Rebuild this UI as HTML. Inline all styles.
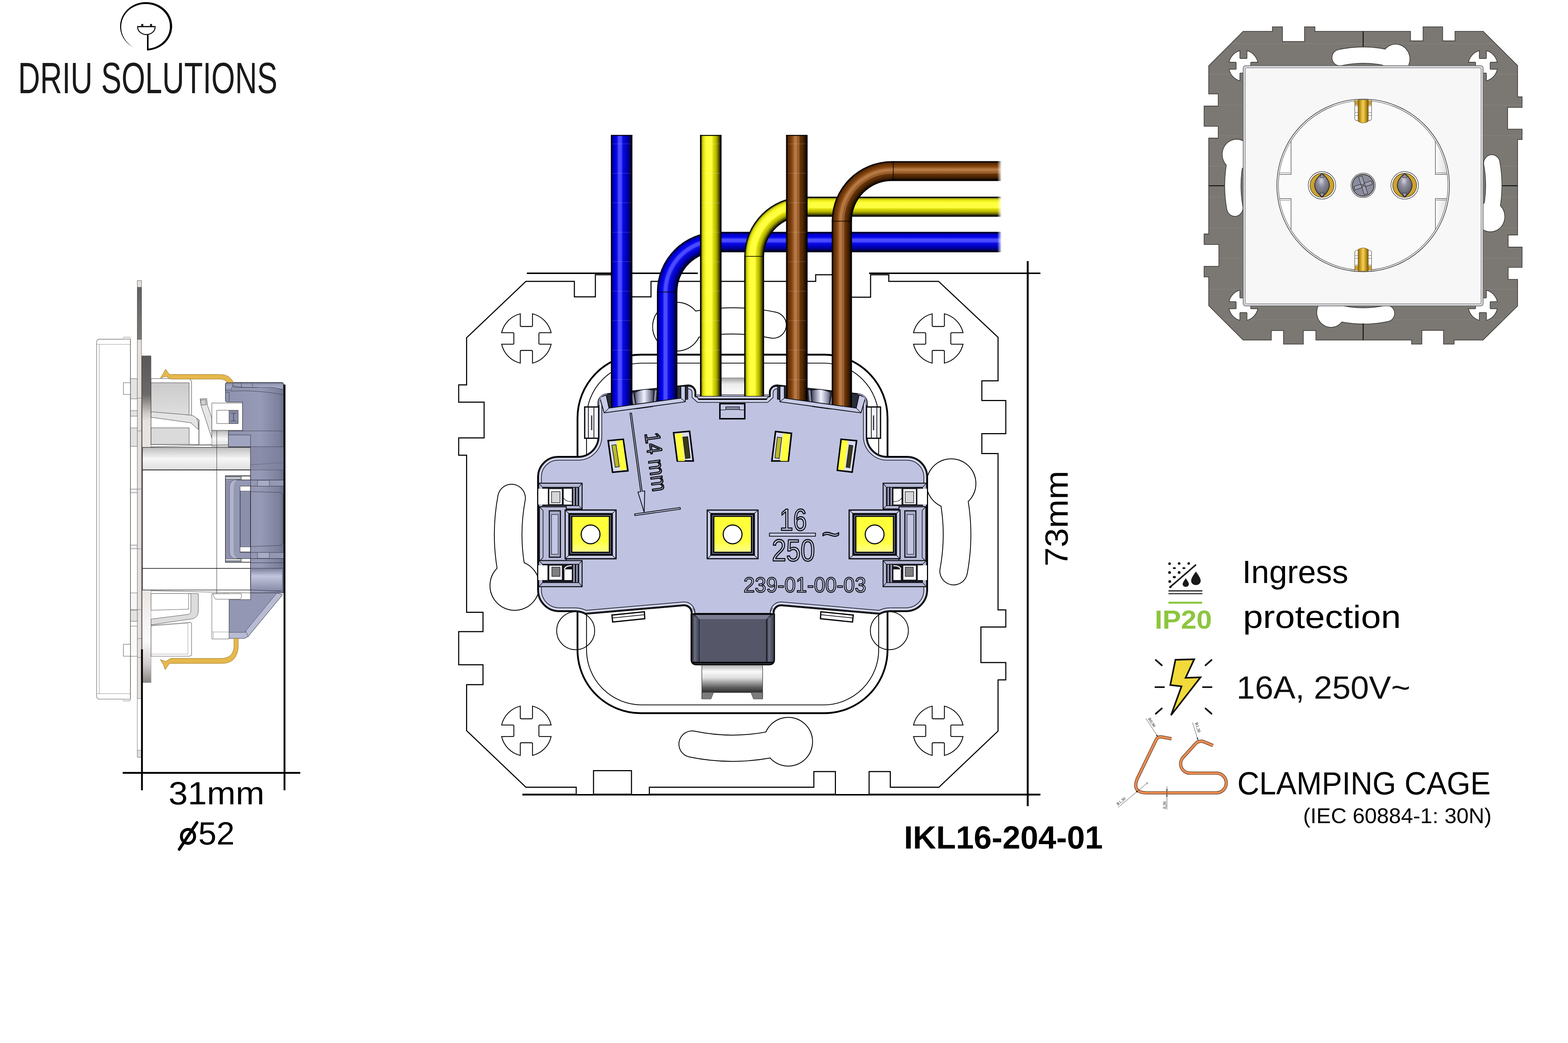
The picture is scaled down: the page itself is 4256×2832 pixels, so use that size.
<!DOCTYPE html>
<html><head><meta charset="utf-8"><title>IKL16-204-01</title>
<style>
html,body{margin:0;padding:0;background:#fff}
body{width:4256px;height:2832px;overflow:hidden}
svg{display:block}
text{font-family:"Liberation Sans",sans-serif}
</style></head><body>
<svg width="4256" height="2832" viewBox="0 0 4256 2832">
<!-- 10_logo.svg -->
<g id="logo">
<path d="M399.06 136.91L402.42 136.73L405.75 136.40L409.07 135.92L412.36 135.29L415.62 134.53L418.83 133.61L421.99 132.56L425.09 131.37L428.13 130.04L431.10 128.59L433.99 127.00L436.79 125.28L439.51 123.45L442.12 121.49L444.64 119.42L447.04 117.25L449.33 114.97L451.51 112.59L453.55 110.12L455.47 107.56L457.26 104.92L458.91 102.20L460.42 99.41L461.78 96.56L462.99 93.65L464.06 90.69L464.97 87.69L465.73 84.65L466.34 81.58L466.78 78.49L467.07 75.38L467.19 72.27L467.16 69.15L466.97 66.03L466.62 62.93L466.11 59.85L465.44 56.79L464.62 53.76L463.64 50.78L462.51 47.84L461.23 44.96L459.81 42.13L458.24 39.37L456.54 36.68L454.70 34.08L452.72 31.55L450.62 29.12L448.40 26.78L446.06 24.54L443.61 22.41L441.05 20.39L438.40 18.48L435.64 16.69L432.80 15.03L429.88 13.50L426.88 12.09L423.82 10.82L420.69 9.69L417.51 8.69L414.28 7.84L411.01 7.13L407.71 6.57L404.38 6.15L401.03 5.88L397.68 5.76L394.32 5.78L390.97 5.96L387.63 6.28L384.31 6.75L381.02 7.37L377.76 8.13L374.55 9.03L371.39 10.08L368.28 11.26L365.24 12.58L362.26 14.03L359.37 15.61L356.56 17.32L353.84 19.15L351.22 21.10L348.70 23.16L346.29 25.33L343.99 27.60L341.81 29.98L339.76 32.44L337.83 35.00L336.04 37.64L334.38 40.35L332.86 43.13L331.49 45.98L330.27 48.89L329.19 51.84L328.27 54.84L327.50 57.88L326.89 60.95L326.44 64.04L326.15 67.15L326.01 70.26L326.03 73.38L326.22 76.50L326.56 79.60L327.06 82.68L327.72 85.74L328.53 88.77L329.50 91.76L330.62 94.70L331.89 97.59L333.31 100.42L334.87 103.18L336.57 105.87L338.40 108.48L340.36 111.01L342.46 113.45L344.67 115.80L347.01 118.04L349.45 120.18L352.00 122.20L354.66 124.12L357.40 125.91L360.24 127.58L360.31 127.45L357.57 125.64L354.93 123.72L352.39 121.69L349.96 119.57L347.64 117.35L345.43 115.04L343.35 112.65L341.40 110.16L339.59 107.61L337.91 104.98L336.36 102.29L334.95 99.54L333.68 96.75L332.56 93.90L331.59 91.02L330.77 88.11L330.10 85.17L329.59 82.21L329.22 79.24L329.01 76.26L328.96 73.28L329.03 70.32L329.22 67.36L329.56 64.41L330.05 61.49L330.69 58.60L331.47 55.74L332.40 52.92L333.48 50.14L334.69 47.42L336.04 44.76L337.52 42.16L339.14 39.64L340.88 37.18L342.74 34.81L344.72 32.52L346.82 30.33L349.03 28.23L351.34 26.24L353.76 24.36L356.27 22.58L358.87 20.92L361.54 19.38L364.30 17.96L367.12 16.66L370.00 15.49L372.94 14.45L375.93 13.54L378.96 12.76L382.02 12.12L385.11 11.62L388.22 11.25L391.35 11.02L394.48 10.93L397.60 10.97L400.73 11.12L403.84 11.41L406.93 11.83L409.99 12.39L413.02 13.08L416.00 13.91L418.94 14.87L421.83 15.95L424.65 17.16L427.40 18.49L430.08 19.94L432.68 21.50L435.19 23.18L437.61 24.96L439.94 26.84L442.16 28.82L444.28 30.88L446.30 33.03L448.20 35.27L449.99 37.58L451.65 39.96L453.18 42.41L454.59 44.93L455.86 47.50L457.00 50.12L458.01 52.78L458.87 55.48L459.60 58.22L460.18 60.98L460.62 63.76L460.92 66.56L461.08 69.37L461.11 72.17L461.03 74.98L460.82 77.79L460.46 80.59L459.96 83.37L459.31 86.12L458.52 88.86L457.60 91.55L456.53 94.21L455.33 96.82L453.99 99.38L452.53 101.88L450.93 104.32L449.21 106.69L447.36 108.98L445.40 111.20L443.32 113.32L441.13 115.36L438.84 117.31L436.45 119.16L433.97 120.90L431.39 122.53L428.73 124.04L426.00 125.44L423.19 126.72L420.31 127.88L417.38 128.91L414.39 129.80L411.36 130.57L408.29 131.20L405.18 131.70L402.06 132.06L398.91 132.28Z" fill="#000"/>
<rect x="399" y="94" width="4.2" height="43" fill="#000"/>
<rect x="372.2" y="70.7" width="50.2" height="3.1" fill="#000"/>
<path d="M373.6 73.5A23.7 20.4 0 0 0 421 73.5" fill="none" stroke="#000" stroke-width="2.5"/>
<rect x="383.2" y="65" width="5.8" height="6.5" rx="1" fill="#222"/><rect x="407.1" y="65" width="5.8" height="6.5" rx="1" fill="#222"/>
<text x="49" y="252.9" font-size="119" fill="#1a1a1a" textLength="704" lengthAdjust="spacingAndGlyphs">DRIU SOLUTIONS</text>
</g>
<!-- 15_side.svg -->
<defs>
<linearGradient id="sBarT" x1="0" x2="0" y1="0" y2="1"><stop offset="0" stop-color="#5a5856"/><stop offset="0.42" stop-color="#6c6a68"/><stop offset="0.62" stop-color="#cfcbc9"/><stop offset="0.7" stop-color="#e6e2e0"/><stop offset="1" stop-color="#e9e5e3"/></linearGradient>
<linearGradient id="sBarB" x1="0" x2="0" y1="0" y2="1"><stop offset="0" stop-color="#e9e5e3"/><stop offset="0.3" stop-color="#f4f2f1"/><stop offset="0.55" stop-color="#fbfafa"/><stop offset="0.8" stop-color="#d0cccb"/><stop offset="1" stop-color="#8a8684"/></linearGradient>
<linearGradient id="sPlateDark" x1="0" x2="0" y1="0" y2="1"><stop offset="0" stop-color="#636160"/><stop offset="1" stop-color="#7c7975"/></linearGradient>
<linearGradient id="sSilver" x1="0" x2="0" y1="0" y2="1"><stop offset="0" stop-color="#bdbdbd"/><stop offset="0.5" stop-color="#f6f6f6"/><stop offset="1" stop-color="#dedede"/></linearGradient>
<linearGradient id="sGrey" x1="0" x2="0" y1="0" y2="1"><stop offset="0" stop-color="#cbcbcb"/><stop offset="1" stop-color="#dedede"/></linearGradient>
<linearGradient id="sMod" x1="0" x2="1"><stop offset="0" stop-color="#8e92ad"/><stop offset="0.6" stop-color="#969ab6"/><stop offset="0.92" stop-color="#7d819d"/><stop offset="1" stop-color="#6a6e88"/></linearGradient>
<linearGradient id="sModShine" x1="0" x2="0" y1="0" y2="1"><stop offset="0" stop-color="#7e829e"/><stop offset="0.35" stop-color="#c2c6dd"/><stop offset="1" stop-color="#8a8ea9"/></linearGradient>
<linearGradient id="sModTop" x1="0" x2="0" y1="0" y2="1"><stop offset="0" stop-color="#8a8ea8"/><stop offset="0.5" stop-color="#a6aac4"/><stop offset="1" stop-color="#8c90ab"/></linearGradient>
</defs>
<g id="side" stroke-linejoin="round">
<!-- cover -->
<path d="M354 921H270Q262.3 921 262.3 929V1890Q262.3 1898.3 270 1898.3H354Z" fill="#fff" stroke="#6a6a6a" stroke-width="1.3"/>
<path d="M269.3 935V1884M263 935H354M263 1883.5H354" stroke="#8a8a8a" stroke-width="1.1" fill="none"/>
<rect x="335" y="915" width="18.5" height="6" fill="#e4e4e4" stroke="#999" stroke-width="0.8"/>
<rect x="335" y="1898.3" width="18.5" height="5.5" fill="#e4e4e4" stroke="#999" stroke-width="0.8"/>
<!-- between cover and plate -->
<g fill="#e3e3e3" stroke="#555" stroke-width="1">
<rect x="354" y="1028" width="19" height="55"/><rect x="354" y="1115" width="19" height="15"/><rect x="354" y="1162" width="19" height="50"/>
<rect x="354" y="1328" width="19" height="10" fill="#f2f2f2"/><rect x="354" y="1480" width="19" height="10" fill="#f2f2f2"/>
<rect x="354" y="1610" width="19" height="45" fill="#f6f6f6"/><rect x="354" y="1657" width="19" height="30"/><rect x="354" y="1700" width="19" height="82" fill="#fafafa"/>
</g>
<path d="M354 921V1898" stroke="#555" stroke-width="1.1"/>
<rect x="335" y="1039.3" width="19" height="31.7" fill="#fff" stroke="#444" stroke-width="1.1"/>
<rect x="335" y="1749.3" width="19" height="32.4" fill="#fff" stroke="#444" stroke-width="1.1"/>
<!-- thin plate -->
<rect x="372.7" y="761.7" width="11.4" height="1294.5" fill="#e5e0de" stroke="#555" stroke-width="1"/>
<rect x="372.7" y="780" width="11.4" height="141.7" fill="url(#sPlateDark)" stroke="#444" stroke-width="0.8"/>
<rect x="373.2" y="1897" width="10.4" height="140" fill="#fff"/>
<path d="M372.7 1081H384M372.7 1170H384M372.7 1328H384M372.7 1490H384M372.7 1655H384M372.7 1734H384M372.7 1785H384M372.7 1897H384M372.7 2037H384" stroke="#666" stroke-width="0.9"/>
<!-- thick bars -->
<rect x="386" y="966" width="24" height="252.3" fill="url(#sBarT)" stroke="#555" stroke-width="0.8"/>
<rect x="386" y="1601.7" width="24" height="251.6" fill="url(#sBarB)" stroke="#777" stroke-width="0.8"/>
<!-- upper grey boxes -->
<path d="M410 1028H508Q520 1028 520 1040V1128L540 1140V1207H410Z" fill="#fff" stroke="#333" stroke-width="1.1"/>
<rect x="410" y="1039.3" width="103.3" height="87.4" fill="url(#sGrey)" stroke="#333" stroke-width="1"/>
<path d="M410 1118L516 1127Q538 1130 538 1152V1166L518 1148L410 1133Z" fill="#e4e4e4" stroke="#333" stroke-width="1"/>
<rect x="410" y="1161.7" width="103.3" height="45" fill="#dadada" stroke="#333" stroke-width="1"/>
<path d="M540 1207V1140M513 1207H575" stroke="#333" stroke-width="1" fill="none"/>
<!-- tilted small bar -->
<path d="M543 1083L561 1082L563 1100L575 1135V1190L562 1150L546 1102Z" fill="#e6e6e6" stroke="#333" stroke-width="1"/>
<rect x="545" y="1085.5" width="14" height="14" fill="#cfcfcf" stroke="#333" stroke-width="0.9" transform="rotate(-3 552 1092)"/>
<!-- white block with recess -->
<rect x="575" y="1094.3" width="83.3" height="74" fill="#fff" stroke="#333" stroke-width="1"/>
<rect x="588.3" y="1114" width="58" height="36" fill="#fff" stroke="#333" stroke-width="1"/>
<rect x="621.7" y="1115" width="24.5" height="35" fill="#8a8ea8" stroke="#333" stroke-width="1"/>
<path d="M634 1122V1143M626 1122H642M626 1143H642" stroke="#2a2c38" stroke-width="1.2" fill="none"/>
<rect x="575" y="1170" width="45" height="42" fill="url(#sSilver)" stroke="#555" stroke-width="0.8"/>
<!-- central body -->
<rect x="386.7" y="1215" width="293.3" height="387" fill="#fff" stroke="#222" stroke-width="1.3"/>
<rect x="386.7" y="1215" width="293.3" height="61" fill="url(#sSilver)" stroke="#222" stroke-width="1.2"/>
<path d="M386.7 1276H680M386.7 1543.3H680" stroke="#111" stroke-width="1.8"/>
<path d="M588.3 1170V1735" stroke="#222" stroke-width="1"/>
<path d="M410 1213L680 1206M410 1604L680 1610" stroke="#333" stroke-width="1" fill="none"/>
<!-- module -->
<path d="M611.7 1044Q611.7 1038.3 618 1038.3H764Q770 1038.3 770 1045V1610H680V1213.3H620V1170H658.3V1091.7H618Q611.7 1091.7 611.7 1086Z" fill="url(#sMod)" stroke="#2a2c38" stroke-width="1.2"/>
<path d="M612.5 1040H769V1058L740 1052H700Q640 1052 632 1046L626 1060H612.5Z" fill="url(#sModTop)" stroke="#3a3c4a" stroke-width="0.9"/>
<path d="M632 1040Q628 1050 640 1052H700M655 1040V1052M685 1040V1050" fill="none" stroke="#3a3c4a" stroke-width="1"/>
<path d="M626 1062Q700 1058 770 1072M612 1065H622V1090" fill="none" stroke="#3a3c4a" stroke-width="1"/>
<path d="M620 1170H770M680 1213H770M680 1262L770 1256M680 1276H770" stroke="#3a3c4a" stroke-width="1" fill="none"/>
<rect x="680" y="1214" width="90" height="62" fill="#7f839f" opacity="0.55"/>
<rect x="620" y="1181" width="60" height="32" fill="#a0a4be" stroke="#2a2c38" stroke-width="1"/>
<!-- U bracket -->
<rect x="611.7" y="1291.7" width="68.3" height="235" fill="#8c90aa" stroke="#222" stroke-width="1.4"/>
<path d="M612 1296H654V1300H612ZM612 1518H654V1522H612Z" fill="#fff" stroke="#333" stroke-width="0.8"/>
<rect x="655" y="1293" width="25" height="10" fill="#fff" stroke="#333" stroke-width="0.8"/><rect x="655" y="1516" width="25" height="10" fill="#fff" stroke="#333" stroke-width="0.8"/>
<path d="M770 1303.3H643Q623.3 1303.3 623.3 1323V1497Q623.3 1516.7 643 1516.7H770V1500H651.7V1320H770Z" fill="#9498b3" stroke="#2a2c38" stroke-width="1.2"/>
<path d="M643 1303.3Q623.3 1303.3 623.3 1323V1497Q623.3 1516.7 643 1516.7Q634 1510 634 1497V1323Q634 1310 643 1303.3Z" fill="#b0b4cc"/>
<rect x="651.7" y="1320" width="28.3" height="13.3" fill="#fff" stroke="#333" stroke-width="0.9"/><rect x="651.7" y="1485" width="28.3" height="13.3" fill="#fff" stroke="#333" stroke-width="0.9"/>
<path d="M651.7 1333.3V1485M680 1291V1527" stroke="#2a2c38" stroke-width="1.2"/>
<path d="M680 1335L760 1337Q768 1338 768 1346V1472Q768 1480 760 1481L680 1484" fill="none" stroke="#3a3c4a" stroke-width="1"/>
<rect x="699" y="1304" width="32" height="16" fill="#a8acc6" stroke="#3a3c4a" stroke-width="0.9"/><rect x="699" y="1500" width="32" height="16" fill="#a8acc6" stroke="#3a3c4a" stroke-width="0.9"/>
<path d="M680 1528H770M680 1543H770" stroke="#2a2c38" stroke-width="1.1"/>
<rect x="682" y="1544" width="84" height="58" fill="url(#sModShine)"/>
<path d="M680 1602L762 1605" stroke="#2a2c38" stroke-width="1.1"/>
<!-- chamfer piece -->
<path d="M621.7 1628H680V1610H752L766.7 1615L673.3 1728.3L663.3 1733.3H621.7Z" fill="#9397b3" stroke="#2a2c38" stroke-width="1.1"/>
<path d="M751.7 1610L766.7 1615L673.3 1728.3L663.3 1733.3H621.7V1717H666L667 1713Z" fill="#b7bbd3" stroke="#3a3c4a" stroke-width="0.9"/>
<path d="M667 1713L673.3 1728.3" stroke="#3a3c4a" stroke-width="0.9"/>
<!-- lower white box & bracket -->
<rect x="575" y="1611.7" width="46.7" height="123.3" fill="#fff" stroke="#444" stroke-width="1"/>
<path d="M578 1612H655Q657 1626 650 1627H585Q580 1622 578 1612Z" fill="#fff" stroke="#444" stroke-width="1"/>
<path d="M575 1716H621.7M579 1716V1733" stroke="#666" stroke-width="0.8"/>
<path d="M410 1611.7H538.3V1660Q538.3 1675 524 1680L410 1696.7V1681L512 1668Q518 1666 518 1658V1611.7Z" fill="#dcdcdc" stroke="#444" stroke-width="1"/>
<path d="M410 1611.7H512V1654L410 1657Z" fill="#fff" stroke="#444" stroke-width="1"/>
<path d="M410 1698L516 1690Q520 1690 520 1695V1775Q520 1781.7 513 1781.7H410Z" fill="#fff" stroke="#444" stroke-width="1.1"/>
<path d="M410 1700L510 1692V1776H410" fill="none" stroke="#777" stroke-width="0.8"/>
<!-- gold clips -->
<path d="M449.3 1002.3L460 1016.7H598Q624 1017 633.3 1038.3H616.7Q610 1029.3 596 1029.3H463.3L450 1021.7L435 1027L443.5 1013.5Z" fill="#e6b84c" stroke="#8f6f20" stroke-width="1"/>
<path d="M448.5 1818.3L460 1801.3H604Q641 1801 646.7 1760V1733.3H635V1757Q632 1787.7 600 1787.7H463.3L450 1796L435 1791L443.5 1805Z" fill="#e6b84c" stroke="#8f6f20" stroke-width="1"/>
<!-- separation line -->
<path d="M385.2 966V1765" stroke="#444" stroke-width="1.5"/>
<!-- dimension lines -->
<path d="M385.3 1763V2145.7M772.2 1044V2145.7" stroke="#000" stroke-width="5"/>
<path d="M333 2098.6H815" stroke="#000" stroke-width="5"/>
</g>

<!-- 20_plate.svg -->
<g id="plate" fill="none" stroke="#000" stroke-width="2.9" stroke-linejoin="miter">
<!-- dimension lines -->
<path d="M1430 742H1894M2359 742H2824" stroke-width="4.2"/>
<path d="M1418 2157.5H2824" stroke-width="4.8"/>
<path d="M2789.5 709V2189" stroke-width="5.2"/>
<!-- outline -->
<path d="M1427.5 764H1559V806H1616V746H1708.5V806H1767V764H2214V746H2262V807H2363V746H2412.5V764H2547.5L2709 916V1034H2665V1087.5H2730V1177.5H2665V1231.5H2709V1656H2730V1702.5H2662.5V1799H2730V1846H2709V1985L2548.5 2137.5H2416.5V2095H2359V2157.5H2267.5V2095H2209V2137.5H1762.5V2157.5H1714V2092.5H1611V2157.5H1564V2137.5H1427.5L1266.5 1984V1859H1311V1805H1245V1715H1311V1662.5H1266.5V1236H1245V1189H1314V1092H1245V1045H1266.5V917Z" fill="#fff"/>
<!-- keyholes: black then white to get union outline -->
<g stroke="#000" fill="none" stroke-linecap="round">
<circle cx="1837.5" cy="887" r="65" stroke-width="4.4"/>
<circle cx="2139.5" cy="2014" r="65" stroke-width="4.4"/>
<circle cx="1397" cy="1590" r="66" stroke-width="4.4"/>
<circle cx="2581.75" cy="1313" r="66" stroke-width="4.4"/>
<path d="M1839 892.7A540 540 0 0 1 2098.5 882.6" stroke-width="73.7"/>
<path d="M2138 2010.3A540 540 0 0 1 1878.5 2020.4" stroke-width="73.7"/>
<path d="M2580.7 1318A540 540 0 0 1 2588.5 1550.7" stroke-width="77.2"/>
<path d="M1396.3 1585A540 540 0 0 1 1388.5 1352.3" stroke-width="77.2"/>
</g>
<g stroke="#fff" fill="#fff" stroke-linecap="round">
<circle cx="1837.5" cy="887" r="65" stroke="none"/>
<circle cx="2139.5" cy="2014" r="65" stroke="none"/>
<circle cx="1397" cy="1590" r="66" stroke="none"/>
<circle cx="2581.75" cy="1313" r="66" stroke="none"/>
<path d="M1839 892.7A540 540 0 0 1 2098.5 882.6" stroke-width="69.3" fill="none"/>
<path d="M2138 2010.3A540 540 0 0 1 1878.5 2020.4" stroke-width="69.3" fill="none"/>
<path d="M2580.7 1318A540 540 0 0 1 2588.5 1550.7" stroke-width="72.8" fill="none"/>
<path d="M1396.3 1585A540 540 0 0 1 1388.5 1352.3" stroke-width="72.8" fill="none"/>
</g>
<!-- screw crosses -->
<g id="cross">
<path id="crossp" stroke-width="2.3" d="M16.6 -67A69 69 0 0 1 67.2 -15.7H37Q34 -15.7 34 -12.7V12.7Q34 15.7 37 15.7H67.2A69 69 0 0 1 16.6 67V35.5Q16.6 32.5 13.6 32.5H-13.6Q-16.6 32.5 -16.6 35.5V67A69 69 0 0 1 -67.2 15.7H-37Q-34 15.7 -34 12.7V-12.7Q-34 -15.7 -37 -15.7H-67.2A69 69 0 0 1 -16.6 -67V-35.5Q-16.6 -32.5 -13.6 -32.5H13.6Q16.6 -32.5 16.6 -35.5Z" transform="translate(1428.75 919)"/>
</g>
<use href="#crossp" transform="translate(1118 0)"/>
<use href="#crossp" transform="translate(0 1065.25)"/>
<use href="#crossp" transform="translate(1118 1065.25)"/>
<!-- small circles -->
<circle cx="1562.5" cy="1712.5" r="51.5" stroke-width="2.2"/>
<circle cx="2414" cy="1712.5" r="51.5" stroke-width="2.2"/>
<!-- rounded double frame -->
<rect x="1567.5" y="963" width="841.5" height="973.5" rx="172" stroke-width="4.8"/>
<rect x="1592" y="986" width="793" height="928" rx="150" stroke-width="2.2"/>
</g>

<!-- 40_module.svg -->
<defs>
<path id="modsil" d="M1988.5 1083H1897L1888 1075V1066A20 20 0 0 0 1868 1046L1646 1070A24 24 0 0 0 1624 1095V1185A55 55 0 0 1 1569 1240H1515A55 55 0 0 0 1460 1295V1602A58 58 0 0 0 1518 1660H1560Q1576 1660 1589 1667L1856 1644A20 20 0 0 1 1877 1664V1700H2100V1664A20 20 0 0 1 2121 1644L2388 1667Q2401 1660 2417 1660H2459A58 58 0 0 0 2517 1602V1295A55 55 0 0 0 2462 1240H2408A55 55 0 0 1 2353 1185V1095A24 24 0 0 0 2331 1070L2109 1046A20 20 0 0 0 2089 1066V1075L2080 1083Z"/>
<clipPath id="modclip"><use href="#modsil"/></clipPath>
<linearGradient id="gScrew" x1="0" x2="1"><stop offset="0" stop-color="#4a4c5c"/><stop offset="0.2" stop-color="#9a9cb4"/><stop offset="0.5" stop-color="#f2f3ff"/><stop offset="0.8" stop-color="#8a8ca6"/><stop offset="1" stop-color="#3c3e4e"/></linearGradient>
<linearGradient id="gSilverV" x1="0" x2="0" y1="0" y2="1"><stop offset="0" stop-color="#b8b8b8"/><stop offset="0.22" stop-color="#fafafa"/><stop offset="0.45" stop-color="#e0e0e0"/><stop offset="0.8" stop-color="#606060"/><stop offset="1" stop-color="#2c2c2c"/></linearGradient>
<linearGradient id="gSilverTop" x1="0" x2="0" y1="0" y2="1"><stop offset="0" stop-color="#9c9c9c"/><stop offset="0.35" stop-color="#ededed"/><stop offset="1" stop-color="#ffffff"/></linearGradient>
<linearGradient id="gDarkSide" x1="0" x2="1"><stop offset="0" stop-color="#16171f"/><stop offset="0.35" stop-color="#6c6e84"/><stop offset="1" stop-color="#3e404e"/></linearGradient>
<linearGradient id="gYelPad" x1="0" x2="0" y1="0" y2="1"><stop offset="0" stop-color="#ffff38"/><stop offset="0.7" stop-color="#ffff40"/><stop offset="1" stop-color="#ffff8a"/></linearGradient>
<g id="term">
<rect x="-69" y="-66" width="138" height="132" fill="#c9cce8" stroke="#08080c" stroke-width="3"/>
<path d="M-69 -66L-58 -56M69 -66L58 -56M-69 66L-58 56M69 66L58 56" stroke="#0c0c12" stroke-width="1.6"/>
<rect x="-60.5" y="-58" width="121" height="116" fill="#0e0e14"/>
<rect x="-54" y="-51.5" width="108" height="103" fill="none" stroke="#c4c7e2" stroke-width="1.1"/>
<rect x="-49.5" y="-47.5" width="99" height="94.5" fill="url(#gYelPad)"/>
<circle cx="0" cy="0" r="25.5" fill="#fff" stroke="#0c0c12" stroke-width="3"/>
</g>
</defs>
<g id="module">
<!-- silver tab between yellow wires (behind) -->
<rect x="1958" y="1025" width="62" height="52" fill="url(#gSilverTop)"/>
<!-- body -->
<use href="#modsil" fill="#bfc3e1" stroke="#000" stroke-width="4"/>
<g clip-path="url(#modclip)" fill="none">
<use href="#modsil" stroke="#23242e" stroke-width="21"/>
<use href="#modsil" stroke="#d3d6ef" stroke-width="17"/>
<use href="#modsil" stroke="#08080c" stroke-width="6"/>
</g>

<rect x="1889" y="1071" width="199" height="13" fill="#cdd0ea"/><path d="M1889 1072H2088" stroke="#23242e" stroke-width="1.4"/>
<!-- entry holes (dark) -->
<g id="holeL">
<path d="M1640 1072L1868 1047V1085L1652 1112Z" fill="#2b2d3a"/>
<!-- screw -->
<path d="M1722 1066Q1748 1052 1775 1060L1772 1104L1728 1110Z" fill="url(#gScrew)" stroke="#15161e" stroke-width="1.6"/>
<path d="M1716 1068L1724 1112M1780 1060L1776 1104" stroke="#8e90aa" stroke-width="5"/>
</g>
<use href="#holeL" transform="translate(3977 0) scale(-1 1)"/>
</g>

<!-- 50_wires.svg -->
<defs>
<linearGradient id="wBlueV" x1="0" x2="1" y1="0" y2="0"><stop offset="0.000" stop-color="#000008"/><stop offset="0.045" stop-color="#000028"/><stop offset="0.090" stop-color="#00009c"/><stop offset="0.180" stop-color="#0000dc"/><stop offset="0.280" stop-color="#0808f0"/><stop offset="0.360" stop-color="#4c4cff"/><stop offset="0.480" stop-color="#4a4aff"/><stop offset="0.560" stop-color="#0a0ae8"/><stop offset="0.740" stop-color="#0000b6"/><stop offset="0.880" stop-color="#000066"/><stop offset="0.950" stop-color="#00001c"/><stop offset="1.000" stop-color="#000008"/></linearGradient>
<linearGradient id="wBlueH" x1="0" x2="0" y1="0" y2="1"><stop offset="0.000" stop-color="#000008"/><stop offset="0.045" stop-color="#000028"/><stop offset="0.090" stop-color="#00009c"/><stop offset="0.180" stop-color="#0000dc"/><stop offset="0.280" stop-color="#0808f0"/><stop offset="0.360" stop-color="#4c4cff"/><stop offset="0.480" stop-color="#4a4aff"/><stop offset="0.560" stop-color="#0a0ae8"/><stop offset="0.740" stop-color="#0000b6"/><stop offset="0.880" stop-color="#000066"/><stop offset="0.950" stop-color="#00001c"/><stop offset="1.000" stop-color="#000008"/></linearGradient>
<linearGradient id="wYelV" x1="0" x2="1" y1="0" y2="0"><stop offset="0.000" stop-color="#000000"/><stop offset="0.055" stop-color="#161600"/><stop offset="0.085" stop-color="#9c9c16"/><stop offset="0.160" stop-color="#e4e40e"/><stop offset="0.300" stop-color="#ffff3c"/><stop offset="0.540" stop-color="#ffff42"/><stop offset="0.620" stop-color="#dcdc08"/><stop offset="0.750" stop-color="#b6b600"/><stop offset="0.870" stop-color="#5e5e00"/><stop offset="0.940" stop-color="#161600"/><stop offset="1.000" stop-color="#000000"/></linearGradient>
<linearGradient id="wYelH" x1="0" x2="0" y1="0" y2="1"><stop offset="0.000" stop-color="#000000"/><stop offset="0.055" stop-color="#161600"/><stop offset="0.085" stop-color="#9c9c16"/><stop offset="0.160" stop-color="#e4e40e"/><stop offset="0.300" stop-color="#ffff3c"/><stop offset="0.540" stop-color="#ffff42"/><stop offset="0.620" stop-color="#dcdc08"/><stop offset="0.750" stop-color="#b6b600"/><stop offset="0.870" stop-color="#5e5e00"/><stop offset="0.940" stop-color="#161600"/><stop offset="1.000" stop-color="#000000"/></linearGradient>
<linearGradient id="wBrnV" x1="0" x2="1" y1="0" y2="0"><stop offset="0.000" stop-color="#000000"/><stop offset="0.055" stop-color="#180a00"/><stop offset="0.100" stop-color="#582a06"/><stop offset="0.220" stop-color="#783c08"/><stop offset="0.320" stop-color="#93541f"/><stop offset="0.400" stop-color="#b87a44"/><stop offset="0.500" stop-color="#b47640"/><stop offset="0.545" stop-color="#8c5428"/><stop offset="0.590" stop-color="#a66a36"/><stop offset="0.640" stop-color="#6c3608"/><stop offset="0.800" stop-color="#4a2404"/><stop offset="0.910" stop-color="#1e0e00"/><stop offset="0.950" stop-color="#000000"/><stop offset="1.000" stop-color="#000000"/></linearGradient>
<linearGradient id="wBrnH" x1="0" x2="0" y1="0" y2="1"><stop offset="0.000" stop-color="#000000"/><stop offset="0.055" stop-color="#180a00"/><stop offset="0.100" stop-color="#582a06"/><stop offset="0.220" stop-color="#783c08"/><stop offset="0.320" stop-color="#93541f"/><stop offset="0.400" stop-color="#b87a44"/><stop offset="0.500" stop-color="#b47640"/><stop offset="0.545" stop-color="#8c5428"/><stop offset="0.590" stop-color="#a66a36"/><stop offset="0.640" stop-color="#6c3608"/><stop offset="0.800" stop-color="#4a2404"/><stop offset="0.910" stop-color="#1e0e00"/><stop offset="0.950" stop-color="#000000"/><stop offset="1.000" stop-color="#000000"/></linearGradient>
<radialGradient id="rb" gradientUnits="userSpaceOnUse" cx="1946.5" cy="793.0" r="163.5"><stop offset="0.6599" stop-color="#000008"/><stop offset="0.6769" stop-color="#00001c"/><stop offset="0.7007" stop-color="#000066"/><stop offset="0.7484" stop-color="#0000b6"/><stop offset="0.8096" stop-color="#0a0ae8"/><stop offset="0.8368" stop-color="#4a4aff"/><stop offset="0.8776" stop-color="#4c4cff"/><stop offset="0.9048" stop-color="#0808f0"/><stop offset="0.9388" stop-color="#0000dc"/><stop offset="0.9694" stop-color="#00009c"/><stop offset="0.9847" stop-color="#000028"/><stop offset="1.0000" stop-color="#000008"/></radialGradient>
<radialGradient id="ry" gradientUnits="userSpaceOnUse" cx="2182.0" cy="696.0" r="162.0"><stop offset="0.6667" stop-color="#000000"/><stop offset="0.6867" stop-color="#161600"/><stop offset="0.7100" stop-color="#5e5e00"/><stop offset="0.7500" stop-color="#b6b600"/><stop offset="0.7933" stop-color="#dcdc08"/><stop offset="0.8200" stop-color="#ffff42"/><stop offset="0.9000" stop-color="#ffff3c"/><stop offset="0.9467" stop-color="#e4e40e"/><stop offset="0.9717" stop-color="#9c9c16"/><stop offset="0.9817" stop-color="#161600"/><stop offset="1.0000" stop-color="#000000"/></radialGradient>
<radialGradient id="rn" gradientUnits="userSpaceOnUse" cx="2420.5" cy="600.5" r="163.0"><stop offset="0.6626" stop-color="#000000"/><stop offset="0.6794" stop-color="#000000"/><stop offset="0.6929" stop-color="#1e0e00"/><stop offset="0.7301" stop-color="#4a2404"/><stop offset="0.7840" stop-color="#6c3608"/><stop offset="0.8009" stop-color="#a66a36"/><stop offset="0.8161" stop-color="#8c5428"/><stop offset="0.8313" stop-color="#b47640"/><stop offset="0.8650" stop-color="#b87a44"/><stop offset="0.8920" stop-color="#93541f"/><stop offset="0.9258" stop-color="#783c08"/><stop offset="0.9663" stop-color="#582a06"/><stop offset="0.9814" stop-color="#180a00"/><stop offset="1.0000" stop-color="#000000"/></radialGradient>
<linearGradient id="fadeR" x1="0" x2="1"><stop offset="0" stop-color="#fff" stop-opacity="0"/><stop offset="1" stop-color="#fff" stop-opacity="1"/></linearGradient>
</defs>
<clipPath id="wireclip"><path d="M1200 0H2800V900H2337V1113L2117 1083V1076H1860V1083L1640 1113V900H1200Z"/></clipPath>
<g id="wires" clip-path="url(#wireclip)">
<rect x="1658.0" y="366.5" width="58.5" height="758.5" fill="url(#wBlueV)"/><rect x="1658.0" y="366.5" width="58.5" height="2.5" fill="#000"/>
<rect x="1946.0" y="629.5" width="772.0" height="55.5" fill="url(#wBlueH)"/><rect x="1783.0" y="792.5" width="55.6" height="332.5" fill="url(#wBlueV)"/><path d="M1783.0 793.0 A163.5 163.5 0 0 1 1946.5 629.5 L1946.5 685.0 A107.9 107.9 0 0 0 1838.6 793.0 Z" fill="url(#rb)"/><path d="M1783.0 793.0 H1838.6" stroke="#000" stroke-width="2" opacity="0.85"/><path d="M1950.5 629.5 V685.0" stroke="#000" stroke-width="2" opacity="0.85"/><rect x="2707.0" y="628.5" width="12" height="57.5" fill="url(#fadeR)"/>
<rect x="1900.0" y="366.5" width="58.5" height="709.5" fill="url(#wYelV)"/><rect x="1900.0" y="366.5" width="58.5" height="2.5" fill="#000"/>
<rect x="2181.5" y="534.0" width="536.5" height="54.5" fill="url(#wYelH)"/><rect x="2020.0" y="695.5" width="54.0" height="384.5" fill="url(#wYelV)"/><path d="M2020.0 696.0 A162.0 162.0 0 0 1 2182.0 534.0 L2182.0 588.5 A108.0 108.0 0 0 0 2074.0 696.0 Z" fill="url(#ry)"/><path d="M2020.0 696.0 H2074.0" stroke="#000" stroke-width="2" opacity="0.85"/><path d="M2186.0 534.0 V588.5" stroke="#000" stroke-width="2" opacity="0.85"/><rect x="2707.0" y="533.0" width="12" height="56.5" fill="url(#fadeR)"/>
<rect x="2133.5" y="366.5" width="58.5" height="758.5" fill="url(#wBrnV)"/><rect x="2133.5" y="366.5" width="58.5" height="2.5" fill="#000"/>
<rect x="2420.0" y="437.5" width="298.0" height="54.0" fill="url(#wBrnH)"/><rect x="2257.5" y="600.0" width="55.0" height="525.0" fill="url(#wBrnV)"/><path d="M2257.5 600.5 A163.0 163.0 0 0 1 2420.5 437.5 L2420.5 491.5 A108.0 108.0 0 0 0 2312.5 600.5 Z" fill="url(#rn)"/><path d="M2257.5 600.5 H2312.5" stroke="#000" stroke-width="2" opacity="0.85"/><path d="M2424.5 437.5 V491.5" stroke="#000" stroke-width="2" opacity="0.85"/><rect x="2707.0" y="436.5" width="12" height="56.0" fill="url(#fadeR)"/>
<rect x="1662" y="390" width="50" height="1.2" fill="#fff" opacity="0.22"/>
<rect x="1904" y="390" width="50" height="1.2" fill="#fff" opacity="0.22"/>
<rect x="2138" y="390" width="50" height="1.2" fill="#fff" opacity="0.22"/>
<rect x="1662" y="470" width="50" height="1.2" fill="#fff" opacity="0.22"/>
<rect x="1904" y="470" width="50" height="1.2" fill="#fff" opacity="0.22"/>
<rect x="2138" y="470" width="50" height="1.2" fill="#fff" opacity="0.22"/>
<rect x="1662" y="550" width="50" height="1.2" fill="#fff" opacity="0.22"/>
<rect x="1904" y="550" width="50" height="1.2" fill="#fff" opacity="0.22"/>
<rect x="2138" y="550" width="50" height="1.2" fill="#fff" opacity="0.22"/>
<rect x="1662" y="630" width="50" height="1.2" fill="#fff" opacity="0.22"/>
<rect x="1904" y="630" width="50" height="1.2" fill="#fff" opacity="0.22"/>
<rect x="2138" y="630" width="50" height="1.2" fill="#fff" opacity="0.22"/>
<rect x="1662" y="710" width="50" height="1.2" fill="#fff" opacity="0.22"/>
<rect x="1904" y="710" width="50" height="1.2" fill="#fff" opacity="0.22"/>
<rect x="2138" y="710" width="50" height="1.2" fill="#fff" opacity="0.22"/>
<rect x="1662" y="790" width="50" height="1.2" fill="#fff" opacity="0.22"/>
<rect x="1904" y="790" width="50" height="1.2" fill="#fff" opacity="0.22"/>
<rect x="2138" y="790" width="50" height="1.2" fill="#fff" opacity="0.22"/>
<rect x="1662" y="870" width="50" height="1.2" fill="#fff" opacity="0.22"/>
<rect x="1904" y="870" width="50" height="1.2" fill="#fff" opacity="0.22"/>
<rect x="2138" y="870" width="50" height="1.2" fill="#fff" opacity="0.22"/>
<rect x="1662" y="950" width="50" height="1.2" fill="#fff" opacity="0.22"/>
<rect x="1904" y="950" width="50" height="1.2" fill="#fff" opacity="0.22"/>
<rect x="2138" y="950" width="50" height="1.2" fill="#fff" opacity="0.22"/>
<rect x="1662" y="1030" width="50" height="1.2" fill="#fff" opacity="0.22"/>
<rect x="1904" y="1030" width="50" height="1.2" fill="#fff" opacity="0.22"/>
<rect x="2138" y="1030" width="50" height="1.2" fill="#fff" opacity="0.22"/>
</g>
<!-- 60_moddetail.svg -->
<g id="moddetail">
<!-- front lips of wire entries -->
<g id="lipL">
<path d="M1628 1080L1640 1121L1860 1091V1049H1848V1081L1653 1108L1645 1072Z" fill="#c9cce8" stroke="#0c0c12" stroke-width="2.2" stroke-linejoin="round"/>
<path d="M1640 1121L1653 1108M1860 1091L1848 1081" stroke="#0c0c12" stroke-width="1.4"/>
<!-- top right rounded rib -->
<path d="M1860 1049Q1888 1046 1888 1070V1075L1897 1083" fill="none" stroke="#0c0c12" stroke-width="2.2"/>
<!-- top-left corner curve -->
<path d="M1626 1100Q1624 1072 1648 1069" fill="none" stroke="#8a8ca6" stroke-width="4"/>
</g>
<use href="#lipL" transform="translate(3977 0) scale(-1 1)"/>
<!-- center ledge -->
<path d="M1897 1083H2080" stroke="#0c0c12" stroke-width="2.4"/>
<path d="M1890 1076H2087" stroke="#0c0c12" stroke-width="1.6"/>
<!-- small rect top center -->
<rect x="1954" y="1096" width="67.5" height="41" fill="#c3c6e3" stroke="#050508" stroke-width="4"/>
<rect x="1970" y="1104.5" width="37" height="7.5" fill="#8688a0" stroke="#15161e" stroke-width="1.6"/>
<path d="M1956 1113H1970M2007 1113H2020" stroke="#15161e" stroke-width="1.6"/>
<!-- side clips -->
<g id="clipL">
<rect x="1587" y="1105" width="38" height="85" fill="#f4f4fa" stroke="#050508" stroke-width="3.4"/>
<path d="M1597 1105V1190M1612 1105V1190" stroke="#15161e" stroke-width="2"/><path d="M1606 1128V1168" stroke="#23242e" stroke-width="3"/>
</g>
<use href="#clipL" transform="translate(3977 0) scale(-1 1)"/>
<!-- tilted slots -->
<g stroke-linejoin="miter">
<path d="M1650.7 1196.7L1691.7 1192.7L1704.3 1278.3L1662.7 1282.3Z" fill="#d9dbf0" stroke="#050508" stroke-width="4.2"/>
<path d="M1673.3 1196.7L1690 1195L1700.7 1275L1683.3 1277.3Z" fill="#ffff3c"/>
<path d="M1660.7 1209L1672 1207.5L1681 1267L1670 1268.5Z" fill="#b9b82a" stroke="#15161e" stroke-width="1.6"/>
<path d="M1828.3 1175L1871.7 1171L1881.7 1251.7H1838.3Z" fill="#d9dbf0" stroke="#050508" stroke-width="4.2"/>
<path d="M1832.3 1178.3L1851.7 1176.7L1858.3 1251.7H1840.7Z" fill="#ffff3c"/>
<path d="M1853.3 1186.7L1866.7 1185.7L1873.3 1243.3L1860.7 1245Z" fill="#3a3a18" stroke="#15161e" stroke-width="1.6"/>
<path d="M2105 1171.7L2148.3 1176.7L2140 1251.7H2095Z" fill="#d9dbf0" stroke="#050508" stroke-width="4.2"/>
<path d="M2126 1176.7L2144.3 1179.3L2137.7 1251.7H2118.3Z" fill="#ffff3c"/>
<path d="M2110 1186.7L2121.7 1188.3L2115 1245L2103.3 1243.3Z" fill="#b9b82a" stroke="#15161e" stroke-width="1.6"/>
<path d="M2283 1192.7L2325 1196.7L2313 1282L2272.7 1277Z" fill="#d9dbf0" stroke="#050508" stroke-width="4.2"/>
<path d="M2285 1195L2301.7 1196.7L2291.7 1277.3L2275 1275Z" fill="#ffff3c"/>
<path d="M2305 1208.3L2315 1210L2306.7 1270L2296.7 1268.3Z" fill="#3a3a18" stroke="#15161e" stroke-width="1.6"/>
</g>
<!-- terminals -->
<use href="#term" transform="translate(1603 1451)"/>
<use href="#term" transform="translate(1988.5 1451)"/>
<use href="#term" transform="translate(2374 1451)"/>
</g>

<!-- 62_modside.svg -->
<g id="sideL">
<!-- top small block -->
<rect x="1462" y="1312" width="118" height="70" fill="#b4b7d4" stroke="#0a0a10" stroke-width="2.6"/>
<rect x="1472" y="1322" width="100" height="52" fill="#181920"/>
<rect x="1461" y="1327" width="26" height="43" fill="#fff"/>
<rect x="1490" y="1327" width="36" height="43" fill="#f4f4f8" stroke="#0a0a10" stroke-width="1.6"/>
<rect x="1497" y="1335" width="23" height="30" fill="#d6d6d6" stroke="#23242e" stroke-width="1.6"/>
<rect x="1530" y="1327" width="22" height="43" fill="#fff"/>
<path d="M1530 1352Q1534 1362 1552 1362" fill="none" stroke="#23242e" stroke-width="1.6"/>
<rect x="1556" y="1324" width="4" height="48" fill="#9a9cb8"/><rect x="1564" y="1324" width="4" height="48" fill="#9a9cb8"/>
<path d="M1462 1312L1472 1322M1580 1312L1572 1322M1580 1382L1572 1374M1462 1382L1472 1374" stroke="#0a0a10" stroke-width="1.4"/>
<!-- middle long block -->
<rect x="1464" y="1376" width="73" height="148" fill="#b9bcd9" stroke="#0a0a10" stroke-width="2.6"/>
<rect x="1491" y="1387" width="30" height="126" fill="#a9acca" stroke="#0a0a10" stroke-width="3"/>
<rect x="1497" y="1397" width="18" height="108" fill="#c3c6e3" stroke="#23242e" stroke-width="1.4"/>
<path d="M1474 1386V1514M1464 1376L1474 1386M1464 1524L1474 1514" stroke="#0a0a10" stroke-width="1.6" fill="none"/>
<!-- bottom small block -->
<rect x="1462" y="1522" width="118" height="71" fill="#b4b7d4" stroke="#0a0a10" stroke-width="2.6"/>
<rect x="1472" y="1531" width="100" height="52" fill="#181920"/>
<rect x="1461" y="1535" width="25" height="40" fill="#fff"/>
<rect x="1490" y="1535" width="36" height="40" fill="#f4f4f8" stroke="#0a0a10" stroke-width="1.6"/>
<rect x="1498" y="1540" width="22" height="25" fill="#7e7e7e" stroke="#23242e" stroke-width="1.6"/>
<rect x="1532" y="1546" width="20" height="29" fill="#fff"/>
<path d="M1532 1546Q1534 1536 1552 1536" fill="none" stroke="#e8e8f0" stroke-width="3"/>
<rect x="1556" y="1533" width="4" height="48" fill="#9a9cb8"/><rect x="1564" y="1533" width="4" height="48" fill="#9a9cb8"/>
<path d="M1462 1522L1472 1531M1580 1522L1572 1531M1580 1593L1572 1583M1462 1593L1472 1583" stroke="#0a0a10" stroke-width="1.4"/>
</g>
<use href="#sideL" transform="translate(3977 0) scale(-1 1)"/>
<!-- terminals re-drawn on top of side blocks -->
<use href="#term" transform="translate(1603 1451)"/>
<use href="#term" transform="translate(2374 1451)"/>
<!-- bottom clips -->
<g id="bclipL">
<path d="M1661 1670L1749 1661L1750 1680L1663 1689Z" fill="#fff" stroke="#050508" stroke-width="3.4"/>
<path d="M1662 1678L1750 1669" stroke="#15161e" stroke-width="2" fill="none"/>
</g>
<use href="#bclipL" transform="translate(3977 0) scale(-1 1)"/>
<!-- dark block -->
<g id="darkblock">
<path d="M1876 1667V1790Q1876 1805 1891 1805H2087Q2102 1805 2102 1790V1667Z" fill="#3a3c4a" stroke="#000" stroke-width="3" stroke-linejoin="round"/>
<path d="M1878 1669L1898 1682V1797H1892Q1878 1797 1878 1788Z" fill="url(#gDarkSide)"/>
<path d="M2100 1669L2080 1682V1797H2086Q2100 1797 2100 1788Z" fill="url(#gDarkSide)"/>
<rect x="1898" y="1681" width="182" height="117" fill="#555768"/>
<path d="M1886 1668H2092L2080 1681H1898Z" fill="#7a7c92"/>
<path d="M1884 1667H2094" stroke="#000" stroke-width="5"/>
<path d="M1898 1681V1798M2080 1681V1798" stroke="#1c1d26" stroke-width="1.6"/>
<path d="M1880 1799H2098" stroke="#000" stroke-width="4"/>
</g>
<!-- module lower curves going into dark block -->
<path d="M1856 1644A20 20 0 0 1 1877 1664V1668M2121 1644A20 20 0 0 0 2100 1664V1668" fill="none" stroke="#000" stroke-width="4"/><path d="M1889 1668L1880 1650M2088 1668L2097 1650" stroke="#23242e" stroke-width="1.4"/>
<!-- silver piece -->
<rect x="1905" y="1807" width="165" height="74" fill="url(#gSilverV)"/>
<path d="M1905 1880H1937L1930 1898H1905ZM2070 1880H2038L2045 1898H2070Z" fill="#7c7c7c" stroke="#444" stroke-width="1"/>
<path d="M1905 1807V1898M2070 1807V1898" stroke="#333" stroke-width="1.4"/>

<!-- 64_modtext.svg -->
<g id="modtext" fill="#c6c9e5" stroke="#0e0e14" stroke-width="3.2" stroke-linejoin="round">
<text transform="translate(1750 1177) rotate(82.2)" font-size="58" textLength="161" lengthAdjust="spacingAndGlyphs">14 mm</text>
<path d="M1710 1122L1714 1121.5L1743 1334L1750 1333L1748.5 1391L1731.5 1336L1739 1335Z" stroke-width="2.2"/>
<path d="M1722.5 1395.5L1846 1378L1846.8 1382.5L1723.3 1400Z" stroke-width="2.2"/>
<text x="2116" y="1440" font-size="84" textLength="74" lengthAdjust="spacingAndGlyphs">16</text>
<rect x="2088.5" y="1447.5" width="125" height="8.5" stroke-width="2.2"/>
<text x="2095" y="1523" font-size="84" textLength="117" lengthAdjust="spacingAndGlyphs">250</text>
<text x="2230" y="1479" font-size="84" textLength="50" lengthAdjust="spacingAndGlyphs">~</text>
<text x="2018" y="1608" font-size="58" textLength="333" lengthAdjust="spacingAndGlyphs" stroke-width="2.4">239-01-00-03</text>
</g>

<!-- 70_socket.svg -->
<defs>
<linearGradient id="gGold" x1="0" x2="1"><stop offset="0" stop-color="#8a6a14"/><stop offset="0.3" stop-color="#d8aa28"/><stop offset="0.5" stop-color="#f2d25a"/><stop offset="0.75" stop-color="#c39620"/><stop offset="1" stop-color="#7a5c10"/></linearGradient>
<radialGradient id="gLens" cx="0.45" cy="0.3" r="0.7"><stop offset="0" stop-color="#d4d4e4"/><stop offset="0.35" stop-color="#8e8e9e"/><stop offset="1" stop-color="#55565f"/></radialGradient>
<linearGradient id="gSideWall" x1="0" x2="1"><stop offset="0" stop-color="#fdfdfd"/><stop offset="1" stop-color="#d6d6d6"/></linearGradient>
</defs>
<g id="socket">
<g transform="translate(2544.5 1389.6) scale(0.5813 -0.6103)">
<path d="M1427.5 764H1559V806H1616V746H1708.5V806H1767V764H2214V746H2262V807H2363V746H2412.5V764H2547.5L2709 916V1034H2665V1087.5H2730V1177.5H2665V1231.5H2709V1656H2730V1702.5H2662.5V1799H2730V1846H2709V1985L2548.5 2137.5H2416.5V2095H2359V2157.5H2267.5V2095H2209V2137.5H1762.5V2157.5H1714V2092.5H1611V2157.5H1564V2137.5H1427.5L1266.5 1984V1859H1311V1805H1245V1715H1311V1662.5H1266.5V1236H1245V1189H1314V1092H1245V1045H1266.5V917Z" fill="#7b7873" stroke="#3a3836" stroke-width="3"/>
<g fill="#fff" stroke="#3a3836" stroke-width="3">
<g stroke-linecap="round" fill="none" stroke="#3a3836"><circle cx="1837.5" cy="887" r="65" stroke-width="6"/><circle cx="2139.5" cy="2014" r="65" stroke-width="6"/><circle cx="1397" cy="1590" r="66" stroke-width="6"/><circle cx="2581.75" cy="1313" r="66" stroke-width="6"/>
<path d="M1839 892.7A540 540 0 0 1 2098.5 882.6" stroke-width="75.3"/><path d="M2138 2010.3A540 540 0 0 1 1878.5 2020.4" stroke-width="75.3"/><path d="M2580.7 1318A540 540 0 0 1 2588.5 1550.7" stroke-width="78.8"/><path d="M1396.3 1585A540 540 0 0 1 1388.5 1352.3" stroke-width="78.8"/></g>
<g stroke-linecap="round" fill="none" stroke="#fff"><circle cx="1837.5" cy="887" r="65" fill="#fff" stroke="none"/><circle cx="2139.5" cy="2014" r="65" fill="#fff" stroke="none"/><circle cx="1397" cy="1590" r="66" fill="#fff" stroke="none"/><circle cx="2581.75" cy="1313" r="66" fill="#fff" stroke="none"/>
<path d="M1839 892.7A540 540 0 0 1 2098.5 882.6" stroke-width="69.3"/><path d="M2138 2010.3A540 540 0 0 1 1878.5 2020.4" stroke-width="69.3"/><path d="M2580.7 1318A540 540 0 0 1 2588.5 1550.7" stroke-width="72.8"/><path d="M1396.3 1585A540 540 0 0 1 1388.5 1352.3" stroke-width="72.8"/></g>
<path d="M16.6 -67A69 69 0 0 1 67.2 -15.7H37Q34 -15.7 34 -12.7V12.7Q34 15.7 37 15.7H67.2A69 69 0 0 1 16.6 67V35.5Q16.6 32.5 13.6 32.5H-13.6Q-16.6 32.5 -16.6 35.5V67A69 69 0 0 1 -67.2 15.7H-37Q-34 15.7 -34 12.7V-12.7Q-34 -15.7 -37 -15.7H-67.2A69 69 0 0 1 -16.6 -67V-35.5Q-16.6 -32.5 -13.6 -32.5H13.6Q16.6 -32.5 16.6 -35.5Z" transform="translate(1428.75 919.00)"/>
<path d="M16.6 -67A69 69 0 0 1 67.2 -15.7H37Q34 -15.7 34 -12.7V12.7Q34 15.7 37 15.7H67.2A69 69 0 0 1 16.6 67V35.5Q16.6 32.5 13.6 32.5H-13.6Q-16.6 32.5 -16.6 35.5V67A69 69 0 0 1 -67.2 15.7H-37Q-34 15.7 -34 12.7V-12.7Q-34 -15.7 -37 -15.7H-67.2A69 69 0 0 1 -16.6 -67V-35.5Q-16.6 -32.5 -13.6 -32.5H13.6Q16.6 -32.5 16.6 -35.5Z" transform="translate(2546.75 919.00)"/>
<path d="M16.6 -67A69 69 0 0 1 67.2 -15.7H37Q34 -15.7 34 -12.7V12.7Q34 15.7 37 15.7H67.2A69 69 0 0 1 16.6 67V35.5Q16.6 32.5 13.6 32.5H-13.6Q-16.6 32.5 -16.6 35.5V67A69 69 0 0 1 -67.2 15.7H-37Q-34 15.7 -34 12.7V-12.7Q-34 -15.7 -37 -15.7H-67.2A69 69 0 0 1 -16.6 -67V-35.5Q-16.6 -32.5 -13.6 -32.5H13.6Q16.6 -32.5 16.6 -35.5Z" transform="translate(1428.75 1984.25)"/>
<path d="M16.6 -67A69 69 0 0 1 67.2 -15.7H37Q34 -15.7 34 -12.7V12.7Q34 15.7 37 15.7H67.2A69 69 0 0 1 16.6 67V35.5Q16.6 32.5 13.6 32.5H-13.6Q-16.6 32.5 -16.6 35.5V67A69 69 0 0 1 -67.2 15.7H-37Q-34 15.7 -34 12.7V-12.7Q-34 -15.7 -37 -15.7H-67.2A69 69 0 0 1 -16.6 -67V-35.5Q-16.6 -32.5 -13.6 -32.5H13.6Q16.6 -32.5 16.6 -35.5Z" transform="translate(2546.75 1984.25)"/>
</g>
</g>
<path d="M3700 85V128M3700 878V923.3M3280.7 504.3H3323M4119.3 504.3H4077" stroke="#111" stroke-width="2.6"/>
<rect x="3270" y="118" width="862" height="1" fill="#fff" opacity="0.12"/>
<rect x="3270" y="201" width="862" height="1" fill="#fff" opacity="0.12"/>
<rect x="3270" y="285" width="862" height="1" fill="#fff" opacity="0.12"/>
<rect x="3270" y="368" width="862" height="1" fill="#fff" opacity="0.12"/>
<rect x="3270" y="451" width="862" height="1" fill="#fff" opacity="0.12"/>
<rect x="3270" y="535" width="862" height="1" fill="#fff" opacity="0.12"/>
<rect x="3270" y="618" width="862" height="1" fill="#fff" opacity="0.12"/>
<rect x="3270" y="701" width="862" height="1" fill="#fff" opacity="0.12"/>
<rect x="3270" y="785" width="862" height="1" fill="#fff" opacity="0.12"/>
<rect x="3270" y="868" width="862" height="1" fill="#fff" opacity="0.12"/>
<rect x="3374.3" y="178.3" width="651.4" height="652.4" rx="7" fill="#f8f7f8" stroke="#55565a" stroke-width="1.6"/>
<rect x="3377.3" y="181.3" width="645.4" height="646.4" rx="5" fill="none" stroke="#d2d2d4" stroke-width="4"/>
<rect x="3380.3" y="184.3" width="639.4" height="640.4" rx="3" fill="none" stroke="#6a6a6e" stroke-width="1.2"/>
<circle cx="3700" cy="503.5" r="234.2" fill="#fbfafb" stroke="#2a2a2e" stroke-width="1.6"/>
<circle cx="3700" cy="503.5" r="230" fill="none" stroke="#3a3a3e" stroke-width="1.2"/>
<clipPath id="wellclip"><circle cx="3700" cy="503.5" r="229.4"/></clipPath>
<g clip-path="url(#wellclip)">
<rect x="3460" y="380" width="44.3" height="93.5" fill="#fff" stroke="#333" stroke-width="1.3"/>
<rect x="3460" y="539.3" width="44.3" height="90" fill="#fff" stroke="#333" stroke-width="1.3"/>
<rect x="3896" y="380" width="44.3" height="93.5" fill="url(#gSideWall)" stroke="#333" stroke-width="1.3"/>
<rect x="3896" y="539.3" width="44.3" height="90" fill="url(#gSideWall)" stroke="#333" stroke-width="1.3"/>
<path d="M3460 469H3502M3460 543.5H3502M3898 469H3940M3898 543.5H3940" stroke="#555" stroke-width="1"/>
</g>
<g transform="translate(3700 269.5) scale(1 1)"><path d="M-22.7 2V52Q-22.7 58 -16 58H16Q22.7 58 22.7 52V2" fill="#fff" stroke="#444" stroke-width="1.2"/><path d="M-22.7 18H22.7M-22.7 36H22.7M-22.7 44H22.7" stroke="#666" stroke-width="1"/><path d="M-22 3H22V16H-22Z" fill="#c9a030"/><path d="M-14 1.5V60Q0 69 14 60V1.5Z" fill="url(#gGold)" stroke="#6a5210" stroke-width="1"/></g>
<g transform="translate(3700 737.5) scale(1 -1)"><path d="M-22.7 2V52Q-22.7 58 -16 58H16Q22.7 58 22.7 52V2" fill="#fff" stroke="#444" stroke-width="1.2"/><path d="M-22.7 18H22.7M-22.7 36H22.7M-22.7 44H22.7" stroke="#666" stroke-width="1"/><path d="M-22 3H22V16H-22Z" fill="#c9a030"/><path d="M-14 1.5V60Q0 69 14 60V1.5Z" fill="url(#gGold)" stroke="#6a5210" stroke-width="1"/></g>
<circle cx="3588.3" cy="503.3" r="37.3" fill="#fff" stroke="#333" stroke-width="1.4"/>
<circle cx="3588.3" cy="503.3" r="32.5" fill="#cda232" stroke="#3a3010" stroke-width="1.4"/>
<path d="M3588.3 471.2Q3628.3 503.3 3588.3 535.4Q3548.3 503.3 3588.3 471.2Z" fill="url(#gLens)" stroke="#222" stroke-width="1.8"/>
<path d="M3588.3 471.2L3582.3 482L3594.3 482ZM3588.3 535.4L3582.3 524.5L3594.3 524.5Z" fill="#9a9aa8" stroke="#222" stroke-width="1"/>
<circle cx="3812.7" cy="503.3" r="37.3" fill="#fff" stroke="#333" stroke-width="1.4"/>
<circle cx="3812.7" cy="503.3" r="32.5" fill="#cda232" stroke="#3a3010" stroke-width="1.4"/>
<path d="M3812.7 471.2Q3852.7 503.3 3812.7 535.4Q3772.7 503.3 3812.7 471.2Z" fill="url(#gLens)" stroke="#222" stroke-width="1.8"/>
<path d="M3812.7 471.2L3806.7 482L3818.7 482ZM3812.7 535.4L3806.7 524.5L3818.7 524.5Z" fill="#9a9aa8" stroke="#222" stroke-width="1"/>
<circle cx="3700" cy="503.3" r="33" fill="#fff" stroke="#333" stroke-width="1.4"/>
<circle cx="3700" cy="503.3" r="29.5" fill="#8b8c9c" stroke="#222" stroke-width="2"/>
<g transform="translate(3700 503.3) rotate(-18)" fill="#9c9dae" stroke="#222" stroke-width="1.2"><rect x="-25" y="-5" width="50" height="10"/><rect x="-5" y="-25" width="10" height="50"/><path d="M-5 -5L5 5M5 -5L-5 5"/></g>
</g>
<!-- 80_texts.svg -->
<g id="texts">
<text id="t_ing" x="3371.7" y="1583.3" font-size="88" font-weight="normal" fill="#000" textLength="287.9" lengthAdjust="spacingAndGlyphs">Ingress</text>
<text id="t_pro" x="3373.8" y="1705.0" font-size="88" font-weight="normal" fill="#000" textLength="428.8" lengthAdjust="spacingAndGlyphs">protection</text>
<text id="t_16a" x="3356.3" y="1896.7" font-size="88" font-weight="normal" fill="#111" textLength="471.8" lengthAdjust="spacingAndGlyphs">16A, 250V~</text>
<text id="t_cla" x="3358.5" y="2156.7" font-size="88" font-weight="normal" fill="#000" textLength="687.6" lengthAdjust="spacingAndGlyphs">CLAMPING CAGE</text>
<text id="t_iec" x="3537.0" y="2234.5" font-size="56.5" font-weight="normal" fill="#000" textLength="511.6" lengthAdjust="spacingAndGlyphs">(IEC 60884-1: 30N)</text>
<text id="t_ikl" x="2453.4" y="2304.0" font-size="88" font-weight="bold" fill="#000" textLength="540.1" lengthAdjust="spacingAndGlyphs">IKL16-204-01</text>
<text id="t_31" x="457.4" y="2183.8" font-size="88" font-weight="normal" fill="#000" textLength="260.3" lengthAdjust="spacingAndGlyphs">31mm</text>
<text id="t_52" x="538.2" y="2293.0" font-size="88" font-weight="normal" fill="#000" textLength="98.6" lengthAdjust="spacingAndGlyphs">52</text>
<text id="t_ip" x="3134.2" y="1706.7" font-size="69.8" font-weight="bold" fill="#8cc63f" textLength="155.4" lengthAdjust="spacingAndGlyphs">IP20</text>
</g>

<!-- 82_icons.svg -->
<g id="icons">
<!-- 73mm rotated -->
<text transform="translate(2897.5 1538) rotate(-90)" font-size="88" textLength="260" lengthAdjust="spacingAndGlyphs">73mm</text>
<!-- ø -->
<ellipse cx="510.3" cy="2270.9" rx="17.9" ry="19" fill="none" stroke="#000" stroke-width="8"/>
<path d="M486.5 2306L534.5 2233.5" stroke="#000" stroke-width="8" stroke-linecap="round"/>
<!-- IP icon -->
<g fill="#1a1a1a">
<circle cx="3174.5" cy="1530.5" r="3.6"/><circle cx="3200.5" cy="1530" r="3.6"/><circle cx="3226.5" cy="1530" r="3.6"/>
<ellipse cx="3187.5" cy="1542.5" rx="4.2" ry="2.6"/><ellipse cx="3213.5" cy="1542.5" rx="4.2" ry="2.6"/>
<circle cx="3174.5" cy="1554.5" r="3.8"/><circle cx="3200.5" cy="1554.5" r="3.8"/>
<ellipse cx="3187.5" cy="1567" rx="4.2" ry="3.2"/>
<circle cx="3175" cy="1579" r="3.8"/>
<path d="M3175.5 1594.5L3246 1533.5" stroke="#1a1a1a" stroke-width="4.2" stroke-linecap="round" stroke-dasharray="7 1.5"/>
<circle cx="3177" cy="1593.5" r="3.2"/>
<path d="M3246 1552Q3259 1569 3259 1577A13 11.5 0 0 1 3233 1577Q3233 1569 3246 1552Z"/>
<path d="M3218.5 1570Q3227 1582 3227 1586A8.5 7.5 0 0 1 3210 1586Q3210 1582 3218.5 1570Z"/>
</g>
<rect x="3171.5" y="1602.8" width="92" height="3.2" fill="#222"/>
<rect x="3171.5" y="1610.6" width="92" height="2.8" fill="#222"/>
<rect x="3171.5" y="1633.8" width="91.5" height="5.4" fill="#8cc63f"/>
<!-- lightning -->
<path d="M3190.5 1791.5L3241.5 1790L3218 1840.5L3258.5 1839L3178.5 1942L3207 1863.5L3176.5 1860Z" fill="#f2da3a" stroke="#111" stroke-width="4.4" stroke-linejoin="miter"/>
<path d="M3137 1792L3153.5 1806.5M3272 1806.5L3288.5 1792M3136 1865.7H3159.5M3265 1865.7H3288.5M3137 1938L3153.5 1923.5M3272 1923.5L3288.5 1938" stroke="#111" stroke-width="4.4" stroke-linecap="round"/>
<!-- clamp cage -->
<g fill="none" stroke-linejoin="round" stroke-linecap="butt">
<path d="M3180 2006L3153 2001Q3143 1999 3138 2009L3087.5 2113Q3071 2152.7 3112 2152.7H3301.7A26.7 26.7 0 0 0 3301.7 2099.3H3231A25.5 25.5 0 0 1 3210.5 2057.5L3243 2021.5Q3251 2011 3264.5 2013L3292.5 2024.3" stroke="#4a3220" stroke-width="8.6"/>
<path d="M3180 2006L3153 2001Q3143 1999 3138 2009L3087.5 2113Q3071 2152.7 3112 2152.7H3301.7A26.7 26.7 0 0 0 3301.7 2099.3H3231A25.5 25.5 0 0 1 3210.5 2057.5L3243 2021.5Q3251 2011 3264.5 2013L3292.5 2024.3" stroke="#e98b50" stroke-width="6.2"/>
</g>
<g stroke="#222" stroke-width="0.9" fill="none">
<path d="M3110 1950.7L3142.7 2000M3236.7 1961.7L3251.7 2010M3035 2192.3L3113.3 2126.7M3111 2123.5L3116 2129.5M3116 2124L3111 2129M3167.3 2135V2198.3"/>
<path d="M3142.7 2000L3138 1996.5L3140.5 1995ZM3251.7 2010L3248.7 2004L3251.3 2003.5ZM3089 2147L3083.5 2149L3085.5 2151.5ZM3167.3 2148.5L3166 2143H3168.6ZM3167.3 2157L3166 2162.5H3168.6Z" fill="#222"/>
</g>
<g font-family="Liberation Serif, serif" font-size="11.5" fill="#111" style="font-family:'Liberation Serif',serif">
<text transform="translate(3115.5 1952) rotate(56.5)" style="font-family:'Liberation Serif',serif">R0,90</text>
<text transform="translate(3243.5 1963) rotate(72.8)" style="font-family:'Liberation Serif',serif">R1,30</text>
<text transform="translate(3034.5 2187.5) rotate(-40)" style="font-family:'Liberation Serif',serif">R1,30</text>
<text transform="translate(3164.5 2196) rotate(-90)" style="font-family:'Liberation Serif',serif">0,30</text>
</g>
</g>

</svg>
</body></html>
